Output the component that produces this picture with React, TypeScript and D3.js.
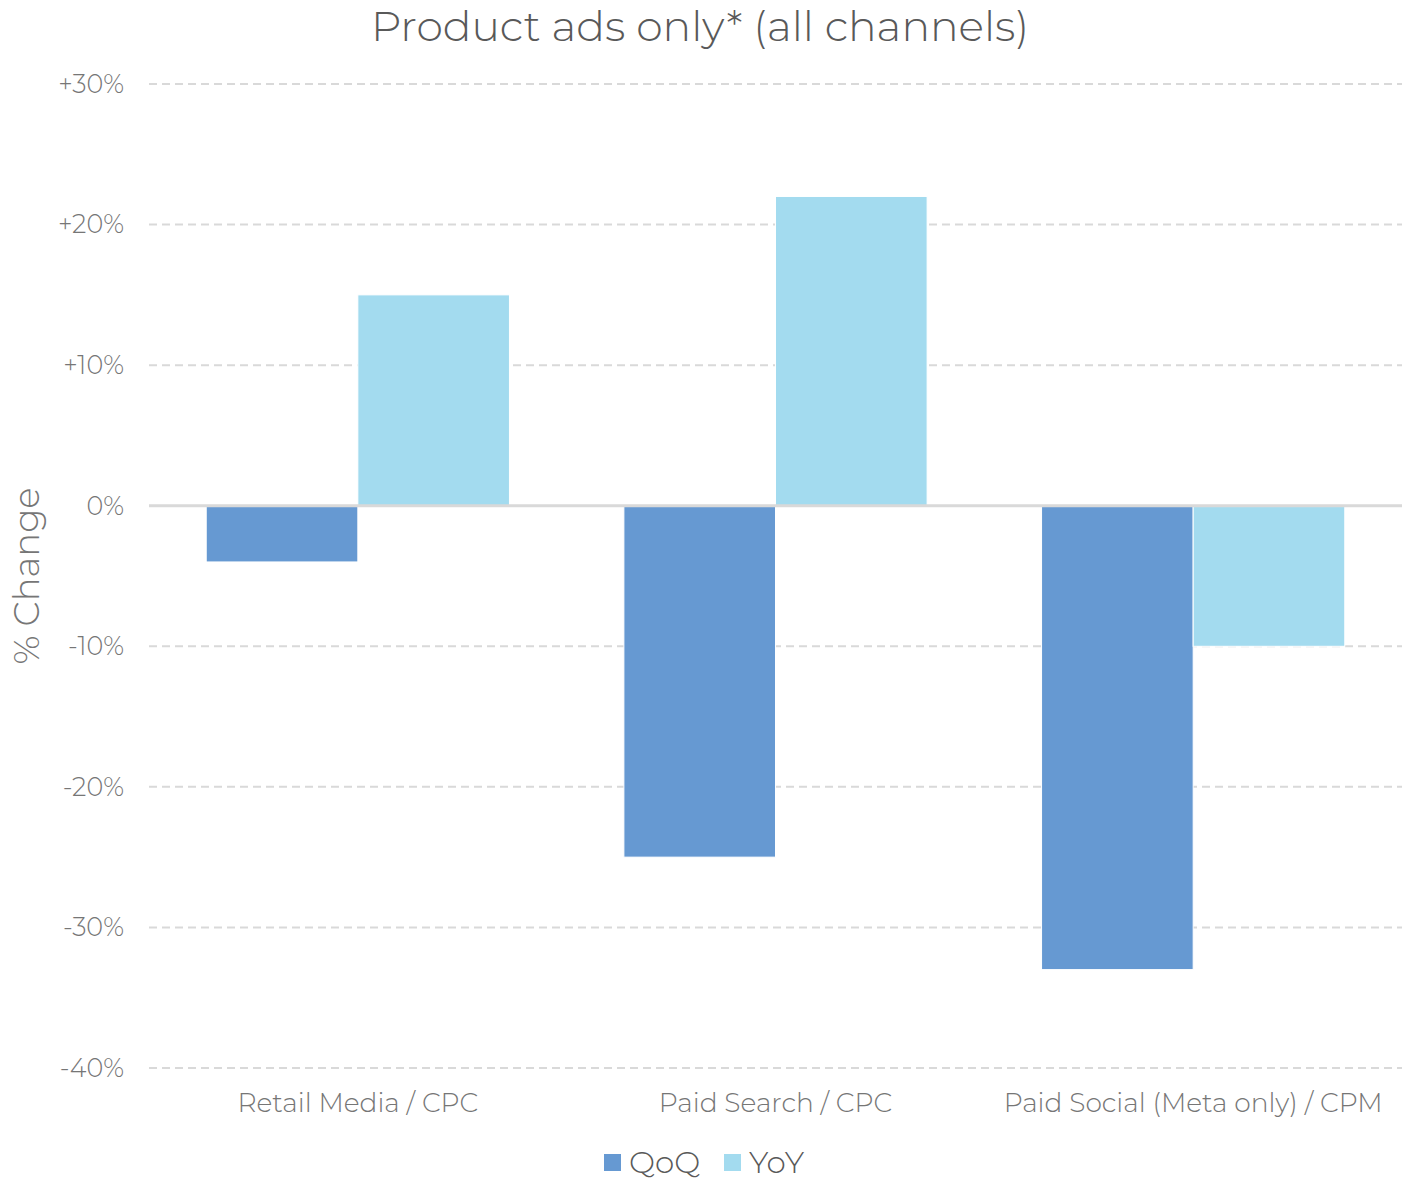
import React from "react";
import * as d3 from "d3";

const categories = ["Retail Media / CPC", "Paid Search / CPC", "Paid Social (Meta only) / CPM"];
const seriesNames = ["QoQ", "YoY"];
const qoqValues = [-4, -25, -33];
const yoyValues = [15, 22, -10];
const yTicks = [30, 20, 10, 0, -10, -20, -30, -40];
const colors = ["#6699D2", "#A3DBEF"];

const W = 1413;
const H = 1180;
const margin = { left: 149, right: 11, top: 84, bottom: 112 };
const FONT = "Montserrat, 'Open Sans', Lato, sans-serif";

export default function App() {
  const y = d3.scaleLinear().domain([-40, 30]).range([1068, 84]);
  const x0 = d3
    .scaleBand<string>()
    .domain(categories)
    .range([margin.left, W - margin.right])
    .paddingInner(0.274)
    .paddingOuter(0.137);
  const x1 = d3.scaleBand<string>().domain(seriesNames).range([0, x0.bandwidth()]).padding(0);
  const series = [qoqValues, yoyValues];
  const fmt = (v: number) => (v > 0 ? "+" : "") + v + "%";

  return (
    <svg width={W} height={H} style={{ display: "block", position: "absolute", left: 0, top: 0 }} fontFamily={FONT}>
      <rect width={W} height={H} fill="#fff" />
      <text x={700} y={41} textAnchor="middle" fontSize={42.5} fill="#595959" fontWeight={300}>
        Product ads only* (all channels)
      </text>
      {yTicks.map((t) => (
        <g key={t}>
          {t !== 0 && (
            <line
              x1={margin.left}
              x2={W - margin.right}
              y1={y(t)}
              y2={y(t)}
              stroke="#d9d9d9"
              strokeWidth={2}
              strokeDasharray="8,5"
            />
          )}
          <text x={124} y={y(t)} dy="0.35em" textAnchor="end" fontSize={25.5} fill="#767676" fontWeight={300}>
            {fmt(t)}
          </text>
        </g>
      ))}
      {categories.map((c, i) => (
        <g key={c} transform={`translate(${x0(c)},0)`}>
          {seriesNames.map((s, j) => {
            const v = series[j][i];
            const top = y(Math.max(0, v));
            const h = Math.abs(y(v) - y(0));
            return (
              <rect
                key={s}
                x={x1(s)}
                y={top}
                width={x1.bandwidth()}
                height={h}
                fill={colors[j]}
                stroke="#fff"
                strokeWidth={1}
              />
            );
          })}
        </g>
      ))}
      <line x1={margin.left} x2={W - margin.right} y1={y(0)} y2={y(0)} stroke="#d9d9d9" strokeWidth={3} />
      {categories.map((c) => (
        <text
          key={c}
          x={(x0(c) as number) + x0.bandwidth() / 2}
          y={1112}
          textAnchor="middle"
          fontSize={26.5}
          fill="#767676"
          fontWeight={300}
        >
          {c}
        </text>
      ))}
      <text
        transform={`translate(39,576) rotate(-90)`}
        textAnchor="middle"
        fontSize={35.5}
        fill="#767676"
        fontWeight={300}
      >
        % Change
      </text>
      {seriesNames.map((s, j) => {
        const lx = [604, 724][j];
        return (
          <g key={s}>
            <rect x={lx} y={1154} width={17} height={17} fill={colors[j]} />
            <text x={lx + 25} y={1173} fontSize={31} fill="#595959" fontWeight={300}>
              {s}
            </text>
          </g>
        );
      })}
    </svg>
  );
}
